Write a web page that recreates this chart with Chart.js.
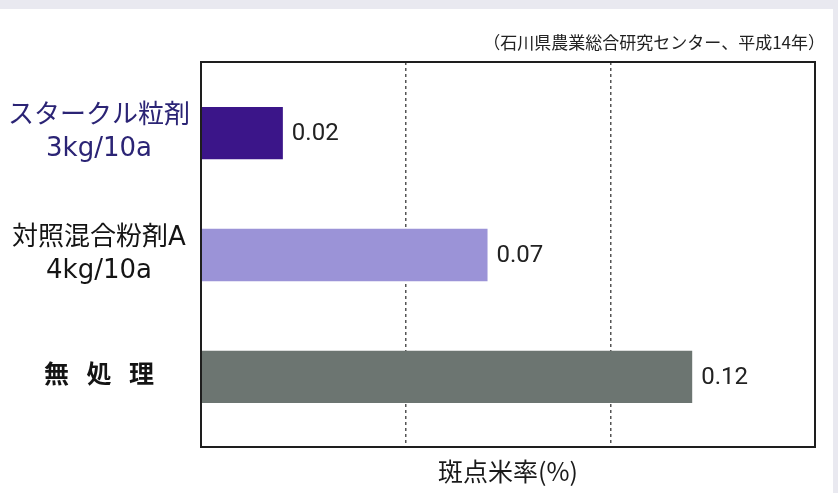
<!DOCTYPE html>
<html>
<head>
<meta charset="utf-8">
<script src="https://cdn.jsdelivr.net/npm/chart.js@4.4.0/dist/chart.umd.min.js"></script>
<style>
  html, body { margin: 0; padding: 0; background: #fff; }
  #wrap { width: 838px; height: 493px; }
</style>
</head>
<body>
<div id="wrap"><canvas id="spotChart"></canvas></div>
<script>
// data
const categories = [
  ['スタークル粒剤', '3kg/10a'],
  ['対照混合粉剤A', '4kg/10a'],
  ['無  処  理']
];
const spotRate = [0.02, 0.07, 0.12];
const barColors = ['#3b1589', '#9b93d7', '#6c7571'];
const xTicks = [0, 0.05, 0.10, 0.15];
const sourceNote = '（石川県農業総合研究センター、平成14年）';
const xTitle = '斑点米率(%)';

const jpFont = "'Noto Sans CJK JP', 'Noto Sans', sans-serif";
const labelFont = "'DejaVu Sans', 'Noto Sans CJK JP', sans-serif";

// page frame, plot box, source note and value labels
const framePlugin = {
  id: 'frame',
  beforeDraw(chart) {
    const c = chart.ctx;
    c.save();
    c.fillStyle = '#e9e9f0';
    c.fillRect(0, 0, chart.width, chart.height);
    c.fillStyle = '#ffffff';
    c.fillRect(0, 9, 833, chart.height - 9);
    c.restore();
  },
  afterDatasetsDraw(chart) {
    const c = chart.ctx;
    const a = chart.chartArea;
    c.save();
    c.strokeStyle = '#1e1e1e';
    c.lineWidth = 2;
    c.strokeRect(a.left, a.top, a.right - a.left, a.bottom - a.top);

    c.fillStyle = '#222';
    c.font = "17px " + jpFont;
    c.textAlign = 'right';
    c.textBaseline = 'middle';
    c.fillText(sourceNote, a.right + 10, 43);

    c.font = "24px Roboto, 'Liberation Sans', sans-serif";
    c.textAlign = 'left';
    chart.getDatasetMeta(0).data.forEach((bar, i) => {
      c.fillText(spotRate[i].toFixed(2), bar.x + 9, bar.y + 1);
    });
    c.restore();
  }
};

let spotCtx = document.getElementById('spotChart').getContext('2d');

let spotChartVar = new Chart(spotCtx, {
  type: 'bar',
  data: {
    labels: categories,
    datasets: [{
      label: xTitle,
      data: spotRate,
      backgroundColor: barColors,
      borderWidth: 0,
      categoryPercentage: 1,
      barPercentage: 0.43
    }]
  },
  options: {
    indexAxis: 'y',
    responsive: true,
    maintainAspectRatio: false,
    animation: false,
    layout: {
      padding: { left: 0, right: 23, top: 62, bottom: 7 }
    },
    plugins: {
      legend: { display: false },
      tooltip: { enabled: false },
      title: { display: false }
    },
    scales: {
      x: {
        min: 0,
        max: 0.15,
        afterBuildTicks(scale) {
          scale.ticks = xTicks.map(v => ({ value: v }));
        },
        ticks: { display: false },
        grid: {
          drawTicks: false,
          lineWidth: 1.5,
          color: ctx => (ctx.index === 0 || ctx.index === xTicks.length - 1) ? 'rgba(0,0,0,0)' : '#555'
        },
        border: { display: false, dash: [3, 3] },
        title: {
          display: true,
          text: xTitle,
          color: '#1a1a1a',
          font: { family: jpFont, size: 25 },
          padding: { top: 9, bottom: 0 }
        }
      },
      y: {
        afterFit(scale) {
          scale.width = 201;
          // rows sit a little inside the box, like the original
          scale._startValue = -0.584;
          scale._valueRange = 3.16;
        },
        grid: { display: false, drawTicks: false },
        border: { display: false },
        ticks: {
          crossAlign: 'center',
          padding: 11,
          color: ctx => ctx.index === 0 ? '#2b2475' : '#141414',
          font: ctx => ({
            family: labelFont,
            size: ctx.index === 2 ? 25 : 26,
            weight: ctx.index === 2 ? 'bold' : 'normal',
            lineHeight: 1.27
          })
        }
      }
    }
  },
  plugins: [framePlugin]
});

spotChartVar.render();
</script>
</body>
</html>
